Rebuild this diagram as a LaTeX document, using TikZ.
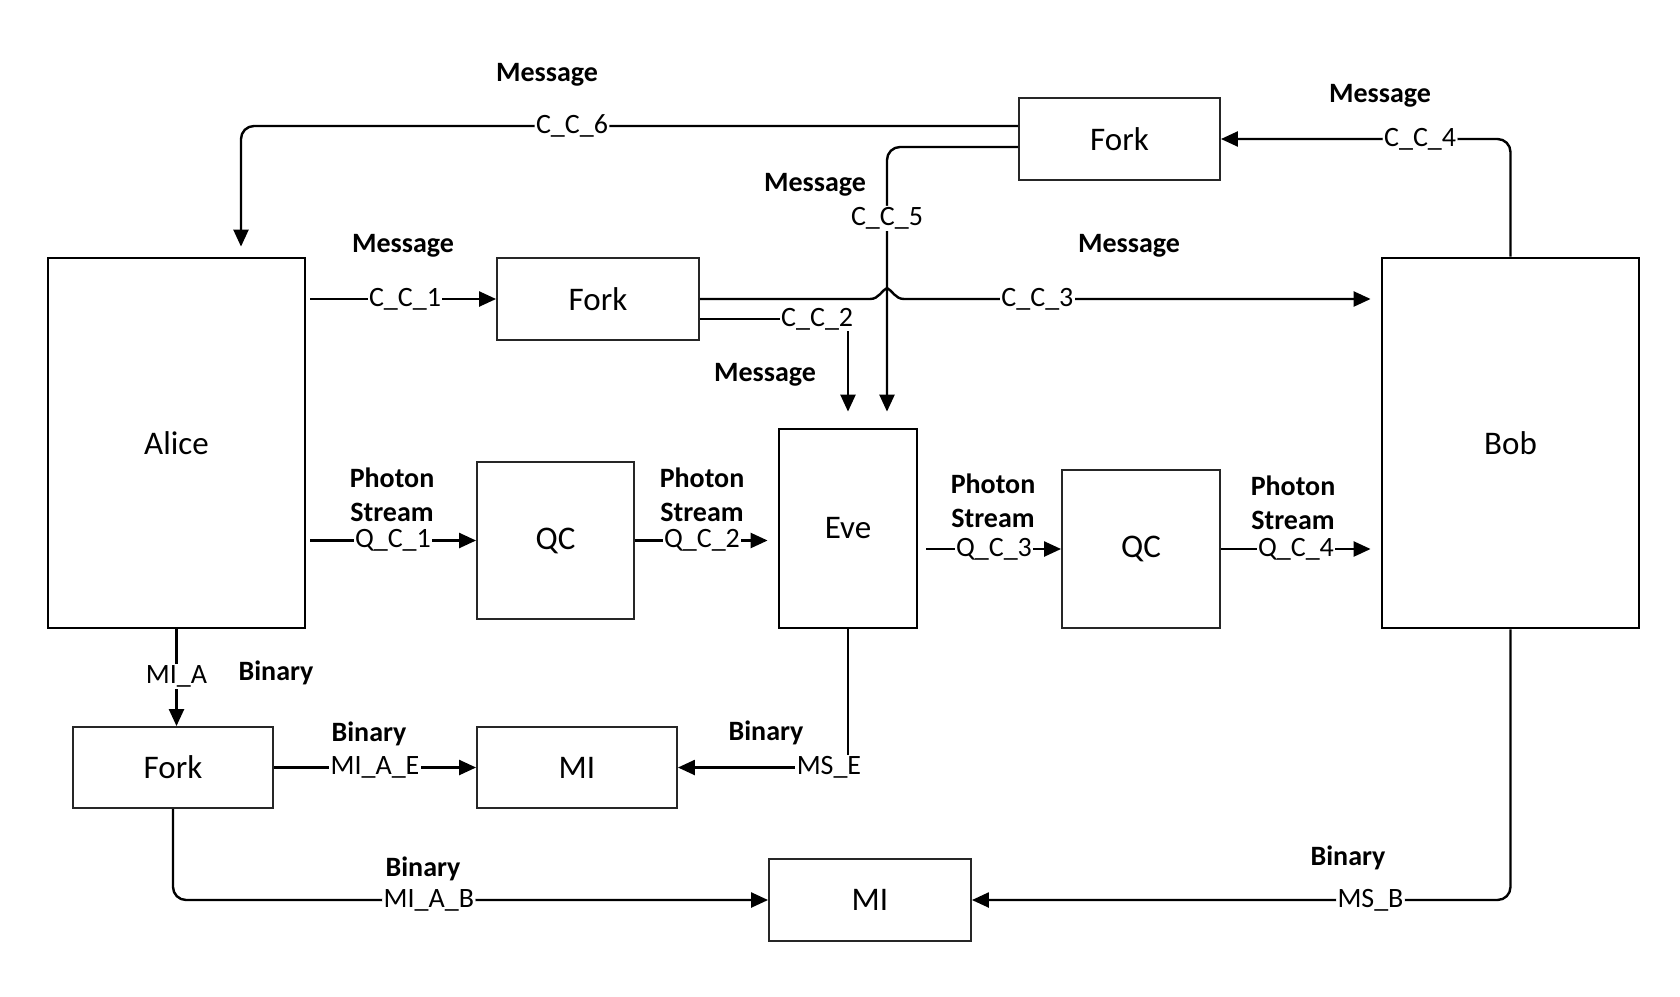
\documentclass[tikz,border=0pt]{standalone}
\usepackage{fontspec}
\setmainfont{Carlito}
\usetikzlibrary{arrows.meta,calc}
\begin{document}
\begin{tikzpicture}[x=1pt,y=-1pt,
  bigbox/.style={draw, line width=2.8pt, inner sep=0pt, font=\fontsize{33}{40}\selectfont},
  smallbox/.style={draw=black!85, line width=1.9pt, inner sep=0pt, font=\fontsize{33}{40}\selectfont},
  conn/.style={line width=2.4pt},
  arr/.style={-{Triangle[length=17pt,width=15pt]}},
  lbl/.style={fill=white, inner sep=1.5pt, font=\fontsize{28}{34}\selectfont},
  boldlbl/.style={font=\fontsize{28}{34}\selectfont\bfseries, align=center, inner sep=0pt}
]
\useasboundingbox (0,0) rectangle (1680,996);

% boxes
\node[bigbox, minimum width=257pt, minimum height=370pt] (alice) at (176.5,443) {Alice};
\node[bigbox, minimum width=257pt, minimum height=370pt] (bob) at (1510.5,443) {Bob};
\node[bigbox, minimum width=138pt, minimum height=199pt] (eve) at (848,528.5) {Eve};
\node[smallbox, minimum width=202pt, minimum height=82pt] (fork1) at (598,299) {Fork};
\node[smallbox, minimum width=201pt, minimum height=82pt] (forkT) at (1119.5,139) {Fork};
\node[smallbox, minimum width=157pt, minimum height=157pt] (qc1) at (555.5,540.5) {QC};
\node[smallbox, minimum width=158pt, minimum height=158pt] (qc2) at (1141,549) {QC};
\node[smallbox, minimum width=200pt, minimum height=81pt] (forkB) at (173,767.5) {Fork};
\node[smallbox, minimum width=200pt, minimum height=81pt] (mi1) at (577,767.5) {MI};
\node[smallbox, minimum width=202pt, minimum height=82pt] (mi2) at (870,900) {MI};

% classical channels
\draw[conn,arr,rounded corners=13pt] ([yshift=13pt]forkT.west) -| ([xshift=64.5pt,yshift=10pt]alice.north) node[lbl,pos=0.287]{C\_C\_6};
\coordinate (c5) at ([xshift=39pt,yshift=16pt]eve.north);
\draw[conn,arr,rounded corners=13pt] ([yshift=-8pt]forkT.west) -| (c5) node[lbl,pos=0.635]{C\_C\_5};
\draw[conn,arr,rounded corners=13pt] (bob.north) |- (forkT.east) node[lbl,pos=0.656]{C\_C\_4};
\draw[conn,arr,shorten <=4pt] (alice.east |- fork1.west) -- (fork1.west) node[lbl,pos=0.52]{C\_C\_1};
\draw[conn,arr,shorten >=10pt] (fork1.east) -- ($(c5 |- fork1.east)+(-17pt,0)$)
   .. controls +(9pt,0) and +(-5pt,-2pt) .. ($(c5 |- fork1.east)+(0,11pt)$)
   .. controls +(5pt,-2pt) and +(-9pt,0) .. ($(c5 |- fork1.east)+(17pt,0)$)
   -- node[lbl,pos=0.28]{C\_C\_3} (bob.west |- fork1.east);
\draw[conn,arr] ([yshift=-20pt]fork1.east) -| ([yshift=16pt]eve.north) node[lbl,pos=0.396]{C\_C\_2};

% quantum channels
\draw[conn,arr,shorten <=4pt] (alice.east |- qc1.west) -- (qc1.west) node[lbl,pos=0.51]{Q\_C\_1};
\draw[conn,arr,shorten >=10pt] (qc1.east) -- (eve.west |- qc1.east) node[lbl,pos=0.47]{Q\_C\_2};
\draw[conn,arr,shorten <=8pt] (eve.east |- qc2.west) -- (qc2.west) node[lbl,pos=0.53]{Q\_C\_3};
\draw[conn,arr,shorten >=10pt] (qc2.east) -- (bob.west |- qc2.east) node[lbl,pos=0.47]{Q\_C\_4};

% binary channels
\draw[conn,arr] (alice.south) -- (alice.south |- forkB.north) node[lbl,pos=0.485]{MI\_A};
\draw[conn,arr] (forkB.east) -- (mi1.west) node[lbl,pos=0.5]{MI\_A\_E};
\draw[conn,arr] (eve.south) |- (mi1.east) node[lbl,pos=0.556]{MS\_E};
\draw[conn,arr,rounded corners=13pt] (forkB.south) |- (mi2.west) node[lbl,pos=0.715]{MI\_A\_B};
\draw[conn,arr,rounded corners=13pt] (bob.south) |- (mi2.east) node[lbl,pos=0.63]{MS\_B};

% bold annotations
\node[boldlbl] (m6) at (547,75) {Message};
\node[boldlbl] (m4) at (1380,96) {Message};
\node[boldlbl] (m5) at (815,185) {Message};
\node[boldlbl] (m1) at (403,246) {Message};
\node[boldlbl] (m3) at (1129,246) {Message};
\node[boldlbl] (m2) at (765,375) {Message};
\node[boldlbl] (p1) at (392,495) {Photon\\Stream};
\node[boldlbl] (p2) at (702,495) {Photon\\Stream};
\node[boldlbl] (p3) at (993,501) {Photon\\Stream};
\node[boldlbl] (p4) at (1293,503) {Photon\\Stream};
\node[boldlbl] (b1) at (276,673) {Binary};
\node[boldlbl] (b2) at (369,734) {Binary};
\node[boldlbl] (b3) at (766,733) {Binary};
\node[boldlbl] (b4) at (423,869) {Binary};
\node[boldlbl] (b5) at (1348,858) {Binary};
\end{tikzpicture}
\end{document}
